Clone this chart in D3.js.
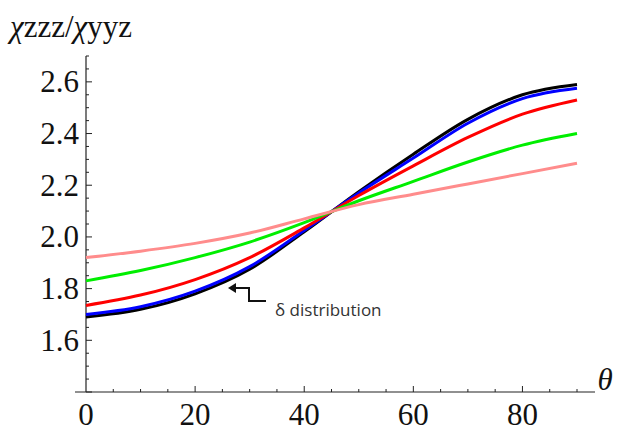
<!DOCTYPE html>
<html>
<head>
<meta charset="utf-8">
<script src="https://cdn.jsdelivr.net/npm/d3@7"></script>
<style>
  body { margin: 0; background: #fff; }
  svg { display: block; }
</style>
</head>
<body>
<div id="chart"></div>
<script>
// Data
const theta = [0, 10, 20, 30, 40, 50, 60, 70, 80, 90];
const blackVals = [1.69, 1.72, 1.78, 1.875, 2.02, 2.175, 2.32, 2.455, 2.55, 2.59];
const blueVals  = [1.70, 1.73, 1.79, 1.885, 2.025, 2.17, 2.305, 2.44, 2.535, 2.575];
const redVals   = [1.735, 1.775, 1.835, 1.92, 2.035, 2.16, 2.275, 2.385, 2.475, 2.53];
const greenVals = [1.83, 1.87, 1.92, 1.98, 2.055, 2.14, 2.215, 2.29, 2.355, 2.40];
const pinkVals  = [1.92, 1.945, 1.975, 2.015, 2.07, 2.125, 2.165, 2.205, 2.245, 2.285];

const xTicks = [0, 20, 40, 60, 80];
const yTicks = [1.6, 1.8, 2.0, 2.2, 2.4, 2.6];

const series = [
  { name: "black", color: "#000000", values: blackVals },
  { name: "blue", color: "#0000ff", values: blueVals },
  { name: "red", color: "#ff0000", values: redVals },
  { name: "green", color: "#00ee00", values: greenVals },
  { name: "pink", color: "#ff8c8c", values: pinkVals }
];

const width = 617;
const height = 432;

const svg = d3.select("#chart")
    .append("svg")
    .attr("width", width)
    .attr("height", height);

const x = d3.scaleLinear().domain([0, 90]).range([86, 577]);
const y = d3.scaleLinear().domain([1.4, 2.7]).range([392, 56]);

// Axes, ticks pointing inward
const axisColor = "#222";

svg.append("line")
    .attr("x1", 75).attr("x2", 595)
    .attr("y1", y(1.4)).attr("y2", y(1.4))
    .attr("stroke", axisColor).attr("stroke-width", 1.2);

svg.append("line")
    .attr("x1", x(0)).attr("x2", x(0))
    .attr("y1", y(2.7)).attr("y2", y(1.4))
    .attr("stroke", axisColor).attr("stroke-width", 1.2);

// x ticks every 5, major every 20
const xMinor = d3.range(5, 91, 5);
svg.append("g").selectAll("line")
    .data(xMinor)
    .join("line")
    .attr("x1", d => x(d)).attr("x2", d => x(d))
    .attr("y1", y(1.4))
    .attr("y2", d => y(1.4) - (d % 20 === 0 ? 6 : 3))
    .attr("stroke", axisColor);

// y ticks every 0.05, major at labelled values
const yMinor = d3.range(28, 55, 1).map(d => d / 20);
svg.append("g").selectAll("line")
    .data(yMinor)
    .join("line")
    .attr("y1", d => y(d)).attr("y2", d => y(d))
    .attr("x1", x(0))
    .attr("x2", d => x(0) + (Math.round(d * 100) % 20 === 0 ? 6 : 3))
    .attr("stroke", axisColor);

const label = sel => sel
    .style("font-family", '"Liberation Serif"')
    .style("font-size", "31px")
    .style("fill", "#111");

svg.append("g").selectAll("text")
    .data(xTicks)
    .join("text")
    .call(label)
    .attr("x", d => x(d))
    .attr("y", 425)
    .attr("text-anchor", "middle")
    .text(d => d);

svg.append("g").selectAll("text")
    .data(yTicks)
    .join("text")
    .call(label)
    .attr("x", 79)
    .attr("y", d => y(d))
    .attr("dy", "0.34em")
    .attr("text-anchor", "end")
    .text(d => d.toFixed(1));

// axis titles
svg.append("text")
    .call(label)
    .attr("x", 605)
    .attr("y", 390)
    .attr("text-anchor", "middle")
    .style("font-style", "italic")
    .text("θ");

const title = svg.append("text")
    .call(label)
    .attr("x", 10)
    .attr("y", 37);
title.append("tspan").style("font-style", "italic").text("χ");
title.append("tspan").text("zzz/");
title.append("tspan").style("font-style", "italic").text("χ");
title.append("tspan").text("yyz");

// Curves
const line = d3.line()
    .x((d, i) => x(theta[i]))
    .y(d => y(d))
    .curve(d3.curveMonotoneX);

svg.append("g").selectAll("path")
    .data(series)
    .join("path")
    .attr("d", d => line(d.values))
    .attr("fill", "none")
    .attr("stroke", d => d.color)
    .attr("stroke-width", 3)
    .attr("stroke-linejoin", "round");

// Annotation for the delta distribution
svg.append("path")
    .attr("d", "M266,301 H249 V288 H233")
    .attr("fill", "none")
    .attr("stroke", "#111")
    .attr("stroke-width", 2);

svg.append("path")
    .attr("d", "M228,288 L236,283 L236,293 Z")
    .attr("fill", "#111");

svg.append("text")
    .attr("x", 275)
    .attr("y", 316)
    .style("font-family", '"Open Sans"')
    .style("font-size", "17px")
    .style("fill", "#333")
    .text("δ distribution");
</script>
</body>
</html>
